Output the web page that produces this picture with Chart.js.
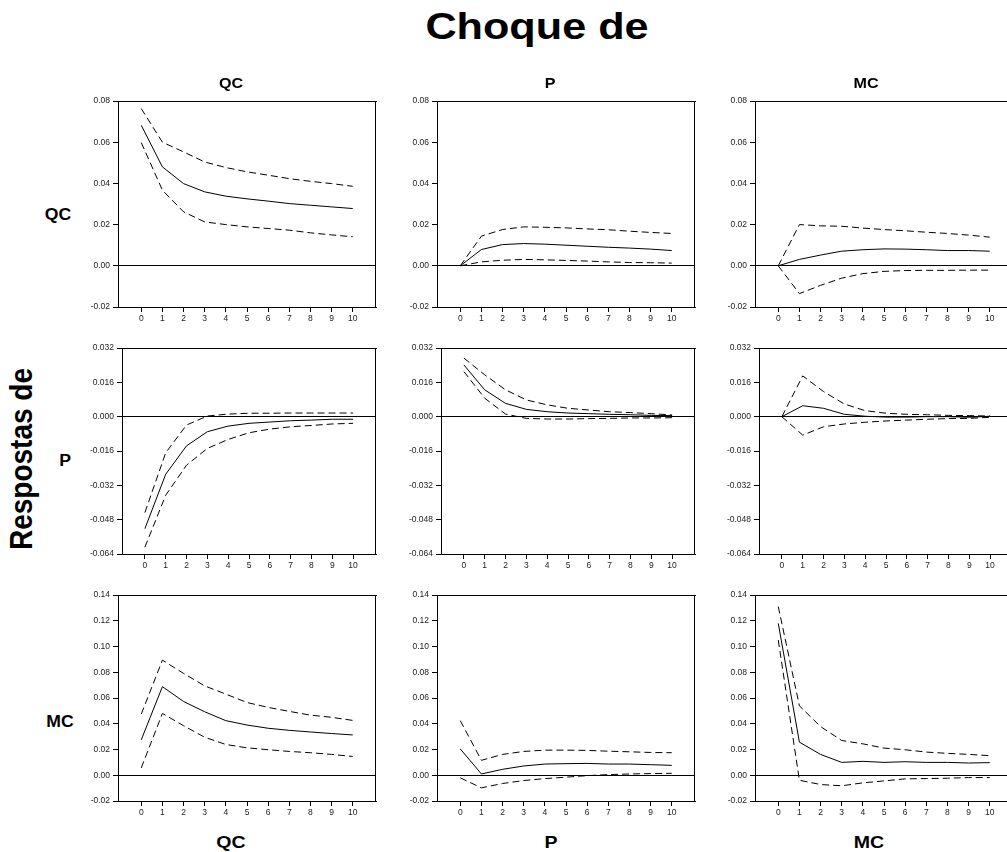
<!DOCTYPE html>
<html>
<head>
<meta charset="utf-8">
<script src="https://cdn.jsdelivr.net/npm/chart.js@4/dist/chart.umd.min.js"></script>
<style>
  html, body { margin: 0; background: #fff; overflow: hidden; }
  #page { position: absolute; left: 0; top: 0; width: 1007px; height: 852px; overflow: hidden;
          font-family: "Liberation Sans", Arial, sans-serif; }
  .lbl { position: absolute; font-weight: bold; color: #000; white-space: nowrap; line-height: 1; }
  canvas { position: absolute; }
</style>
</head>
<body>
<div id="page"></div>
<script>
// horizon and axis ticks
const horizon = [0, 1, 2, 3, 4, 5, 6, 7, 8, 9, 10];
const qcTicks = [-0.02, 0, 0.02, 0.04, 0.06, 0.08];
const pTicks = [-0.064, -0.048, -0.032, -0.016, 0, 0.016, 0.032];
const mcTicks = [-0.02, 0, 0.02, 0.04, 0.06, 0.08, 0.10, 0.12, 0.14];

// responses of QC
const qcQc   = [0.0682, 0.048, 0.0399, 0.0359, 0.0338, 0.0325, 0.0314, 0.0302, 0.0294, 0.0286, 0.0278];
const qcQcHi = [0.0763, 0.060, 0.0553, 0.0504, 0.0477, 0.0456, 0.0440, 0.0423, 0.0410, 0.0399, 0.0386];
const qcQcLo = [0.0598, 0.0367, 0.0262, 0.0213, 0.0200, 0.0189, 0.0181, 0.0173, 0.0160, 0.0150, 0.0141];
const qcP    = [0, 0.0079, 0.0103, 0.0108, 0.0105, 0.0100, 0.0095, 0.0090, 0.0086, 0.0081, 0.0074];
const qcPHi  = [0, 0.0144, 0.0176, 0.0189, 0.0187, 0.0184, 0.0179, 0.0175, 0.0168, 0.0162, 0.0157];
const qcPLo  = [0, 0.0019, 0.0027, 0.0031, 0.0029, 0.0026, 0.0023, 0.0019, 0.0016, 0.0015, 0.0013];
const qcMc   = [0, 0.0031, 0.0052, 0.0071, 0.0078, 0.0082, 0.0081, 0.0078, 0.0074, 0.0074, 0.0071];
const qcMcHi = [0, 0.0200, 0.0194, 0.0192, 0.0183, 0.0176, 0.0170, 0.0163, 0.0157, 0.0149, 0.0139];
const qcMcLo = [0, -0.0135, -0.0095, -0.0060, -0.0038, -0.0027, -0.0023, -0.0022, -0.0022, -0.0021, -0.0021];

// responses of P
const pQc   = [-0.0522, -0.0268, -0.0136, -0.0070, -0.0044, -0.0031, -0.0025, -0.0019, -0.0016, -0.0012, -0.0012];
const pQcHi = [-0.0447, -0.0168, -0.0039, 0.0003, 0.0012, 0.0016, 0.0016, 0.0017, 0.0017, 0.0017, 0.0017];
const pQcLo = [-0.0608, -0.0366, -0.0226, -0.0148, -0.0106, -0.0075, -0.0058, -0.0047, -0.0041, -0.0034, -0.0031];
const pP    = [0.0241, 0.0125, 0.0062, 0.0034, 0.0023, 0.0017, 0.0014, 0.0011, 0.0009, 0.0006, 0.0005];
const pPHi  = [0.0273, 0.0195, 0.0125, 0.0078, 0.0055, 0.0039, 0.0031, 0.0023, 0.0019, 0.0014, 0.0008];
const pPLo  = [0.0210, 0.0086, 0.0012, -0.0008, -0.0011, -0.0011, -0.0009, -0.0008, -0.0006, -0.0006, -0.0005];
const pMc   = [0, 0.0051, 0.0039, 0.0011, 0.0002, -0.0002, -0.0002, 0, 0, -0.0003, 0.0002];
const pMcHi = [0, 0.0190, 0.0117, 0.0059, 0.0028, 0.0016, 0.0011, 0.0009, 0.0006, 0.0005, 0.0003];
const pMcLo = [0, -0.0086, -0.0047, -0.0034, -0.0026, -0.0020, -0.0016, -0.0012, -0.0009, -0.0008, -0.0003];

// responses of MC
const mcQc   = [0.0275, 0.0688, 0.0573, 0.0493, 0.0424, 0.0390, 0.0365, 0.0349, 0.0336, 0.0324, 0.0313];
const mcQcHi = [0.0475, 0.0894, 0.0791, 0.0694, 0.0630, 0.0565, 0.0527, 0.0496, 0.0467, 0.0450, 0.0426];
const mcQcLo = [0.0057, 0.0480, 0.0385, 0.0295, 0.0239, 0.0213, 0.0198, 0.0185, 0.0175, 0.0162, 0.0146];
const mcP    = [0.0205, 0.0010, 0.0046, 0.0072, 0.0087, 0.0090, 0.0092, 0.0087, 0.0087, 0.0082, 0.0077];
const mcPHi  = [0.0424, 0.0116, 0.0162, 0.0185, 0.0195, 0.0195, 0.0193, 0.0187, 0.0182, 0.0177, 0.0175];
const mcPLo  = [-0.0020, -0.0098, -0.0064, -0.0041, -0.0026, -0.0015, -0.0003, 0.0005, 0.0010, 0.0013, 0.0015];
const mcMc   = [0.118, 0.0257, 0.0162, 0.0100, 0.0108, 0.0100, 0.0105, 0.0100, 0.0100, 0.0095, 0.0098];
const mcMcHi = [0.131, 0.0539, 0.0378, 0.0270, 0.0244, 0.0211, 0.0198, 0.0180, 0.0170, 0.0162, 0.0152];
const mcMcLo = [0.105, -0.0039, -0.0072, -0.0082, -0.0059, -0.0044, -0.0028, -0.0026, -0.0023, -0.0018, -0.0018];

Chart.defaults.font.family = '"Liberation Sans", Arial, sans-serif';
const page = document.getElementById('page');

// box round the plot area; the right side is left off where the plot runs past the page
const frame = {
  id: 'frame',
  afterDraw(chart, args, opts) {
    const { ctx, chartArea: a } = chart;
    const l = Math.round(a.left) + 0.5, t = Math.round(a.top) + 0.5;
    const r = Math.round(a.right) - 0.5, b = Math.round(a.bottom) + 0.5;
    ctx.save();
    ctx.strokeStyle = '#000';
    ctx.lineWidth = 1;
    ctx.beginPath();
    ctx.moveTo(l, t); ctx.lineTo(a.right + 1, t);
    if (opts.right) { ctx.moveTo(r, t); ctx.lineTo(r, b); }
    ctx.stroke();
    ctx.restore();
  }
};

function pts(vals) {
  return horizon.map((h, i) => ({ x: h, y: vals[i] }));
}

const FULL_W = 299, PAD_TOP = 12, PLOT_H = 206, XAX_H = 24;

function panel(left, plotTop, mid, hi, lo, yTicks, dec, axisW) {
  // last column runs off the page edge
  const w = Math.min(FULL_W, 1007 - left);
  const cut = w < FULL_W;
  const padR = cut ? 0 : 1;
  const fullPlot = FULL_W - 1 - axisW;
  const xMax = -1.1 + 12.2 * (w - padR - axisW) / fullPlot;

  const cv = document.createElement('canvas');
  cv.width = w; cv.height = PAD_TOP + PLOT_H + XAX_H;
  cv.style.left = left + 'px';
  cv.style.top = (plotTop - PAD_TOP) + 'px';
  page.appendChild(cv);

  new Chart(cv, {
    type: 'line',
    data: {
      datasets: [
        { data: pts(mid), borderDash: [] },
        { data: pts(hi), borderDash: [7, 4] },
        { data: pts(lo), borderDash: [7, 4] }
      ]
    },
    options: {
      responsive: false,
      animation: false,
      layout: { padding: { top: PAD_TOP, right: padR, left: 0, bottom: 0 } },
      plugins: {
        legend: { display: false },
        tooltip: { enabled: false },
        frame: { right: !cut }
      },
      elements: {
        point: { radius: 0 },
        line: { borderWidth: 1, borderColor: '#000', tension: 0 }
      },
      scales: {
        x: {
          type: 'linear', min: -1.1, max: xMax,
          afterBuildTicks: s => { s.ticks = horizon.map(v => ({ value: v })); },
          afterFit: s => { s.height = XAX_H; },
          grid: { drawOnChartArea: false, color: '#000', tickLength: 5 },
          border: { color: '#000' },
          ticks: { font: { size: 8.5 }, color: '#222', padding: 2, maxRotation: 0, autoSkip: false }
        },
        y: {
          min: yTicks[0], max: yTicks[yTicks.length - 1],
          afterBuildTicks: s => { s.ticks = yTicks.map(v => ({ value: v })); },
          afterFit: s => { s.width = axisW; },
          grid: {
            color: c => (c.tick && Math.abs(c.tick.value) < 1e-9) ? '#000' : 'rgba(0,0,0,0)',
            tickColor: '#000', tickLength: 5
          },
          border: { color: '#000' },
          ticks: { font: { size: 8.5 }, color: '#222', padding: 3, callback: v => v.toFixed(dec) }
        }
      }
    },
    plugins: [frame]
  });
}

// row 1: responses of QC
panel(78, 101, qcQc, qcQcHi, qcQcLo, qcTicks, 2, 40);
panel(397, 101, qcP, qcPHi, qcPLo, qcTicks, 2, 40);
panel(715, 101, qcMc, qcMcHi, qcMcLo, qcTicks, 2, 40);
// row 2: responses of P
panel(78, 348, pQc, pQcHi, pQcLo, pTicks, 3, 44);
panel(397, 348, pP, pPHi, pPLo, pTicks, 3, 44);
panel(715, 348, pMc, pMcHi, pMcLo, pTicks, 3, 44);
// row 3: responses of MC
panel(78, 595, mcQc, mcQcHi, mcQcLo, mcTicks, 2, 40);
panel(397, 595, mcP, mcPHi, mcPLo, mcTicks, 2, 40);
panel(715, 595, mcMc, mcMcHi, mcMcLo, mcTicks, 2, 40);

function label(text, cx, cy, size, tf) {
  const d = document.createElement('div');
  d.className = 'lbl';
  d.textContent = text;
  d.style.fontSize = size + 'px';
  d.style.left = cx + 'px';
  d.style.top = cy + 'px';
  d.style.transform = 'translate(-50%, -50%) ' + (tf || '');
  page.appendChild(d);
}

label('Choque de', 537, 27, 36, 'scaleX(1.2)');
label('QC', 231, 83, 14, 'scaleX(1.15)');
label('P', 550, 83, 14, 'scaleX(1.15)');
label('MC', 866, 83, 14, 'scaleX(1.15)');
label('Respostas de', 22, 459, 28, 'rotate(-90deg) scaleY(1.1)');
label('QC', 58, 215, 16, 'scaleX(1.1)');
label('P', 65, 461, 16, 'scaleX(1.1)');
label('MC', 60, 722, 16, 'scaleX(1.1)');
label('QC', 231, 842, 17, 'scaleX(1.15)');
label('P', 551, 842, 17, 'scaleX(1.15)');
label('MC', 869, 842, 17, 'scaleX(1.15)');
</script>
</body>
</html>
